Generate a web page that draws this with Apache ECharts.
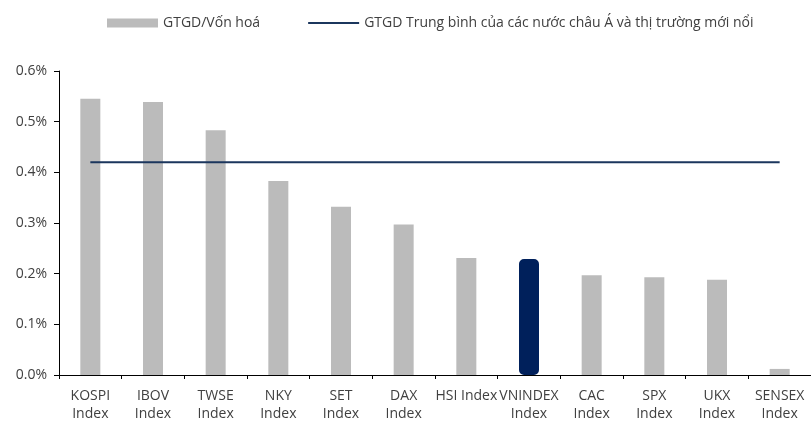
<!DOCTYPE html>
<html>
<head>
<meta charset="utf-8">
<script src="https://cdn.jsdelivr.net/npm/echarts@6/dist/echarts.min.js"></script>
<style>
  html, body { margin: 0; padding: 0; background: #fff; }
  #chart { width: 811px; height: 423px; }
</style>
</head>
<body>
<div id="chart"></div>
<script>
var categories = ['KOSPI\nIndex', 'IBOV\nIndex', 'TWSE\nIndex', 'NKY\nIndex', 'SET\nIndex', 'DAX\nIndex',
  'HSI Index', 'VNINDEX\nIndex', 'CAC\nIndex', 'SPX\nIndex', 'UKX\nIndex', 'SENSEX\nIndex'];
var turnover = [0.545, 0.539, 0.483, 0.383, 0.332, 0.297, 0.231, 0.229, 0.197, 0.193, 0.188, 0.012];
var asiaAverage = [0.42, 0.42, 0.42, 0.42, 0.42, 0.42, 0.42, 0.42, 0.42, 0.42, 0.42, 0.42];
var highlight = 'VNINDEX\nIndex';

var font = 'Open Sans';
var chart = echarts.init(document.getElementById('chart'));

var barData = turnover.map(function (v, i) {
  if (categories[i] === highlight) {
    return {
      value: v,
      itemStyle: { color: '#00205B', borderColor: '#00205B', borderWidth: 4, borderRadius: 3 }
    };
  }
  return v;
});

chart.setOption({
  animation: false,
  textStyle: { fontFamily: font },
  legend: {
    top: 11,
    left: 102,
    itemGap: 48,
    itemWidth: 51,
    itemHeight: 9,
    textStyle: { fontSize: 14, color: '#404040', fontFamily: font },
    data: [
      { name: 'GTGD/Vốn hoá', icon: 'rect' },
      { name: 'GTGD Trung bình của các nước châu Á và thị trường mới nổi', icon: 'path://M0,0H100V4H0Z' }
    ]
  },
  grid: { left: 59, right: -3, top: 71, bottom: 45 },
  xAxis: {
    type: 'category',
    data: categories,
    axisLine: { lineStyle: { color: '#000', width: 1 } },
    axisTick: { show: true, length: 4, lineStyle: { color: '#000' } },
    axisLabel: { color: '#404040', fontSize: 14, lineHeight: 18, margin: 12, interval: 0 }
  },
  yAxis: {
    type: 'value',
    min: 0,
    max: 0.6,
    interval: 0.1,
    axisLine: { show: true, lineStyle: { color: '#000', width: 1 } },
    axisTick: { show: true, length: 5, lineStyle: { color: '#000' } },
    splitLine: { show: false },
    axisLabel: {
      color: '#404040', fontSize: 14, margin: 12,
      formatter: function (v) { return v.toFixed(1) + '%'; }
    }
  },
  series: [
    {
      name: 'GTGD/Vốn hoá',
      type: 'bar',
      barWidth: 20,
      itemStyle: { color: '#BBBBBB' },
      data: barData
    },
    {
      name: 'GTGD Trung bình của các nước châu Á và thị trường mới nổi',
      type: 'line',
      symbol: 'none',
      lineStyle: { color: '#1B365D', width: 2 },
      itemStyle: { color: '#1B365D' },
      data: asiaAverage
    }
  ]
});
</script>
</body>
</html>
